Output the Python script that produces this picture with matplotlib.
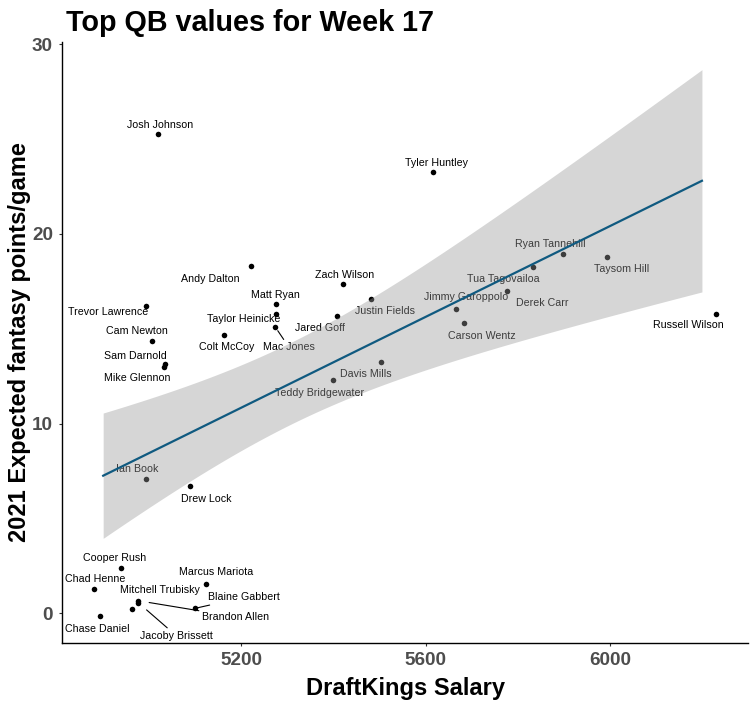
import numpy as np
import matplotlib
matplotlib.use("Agg")
import matplotlib.pyplot as plt

plt.rcParams['font.family'] = ['Liberation Sans', 'DejaVu Sans']

# ---------------- data ----------------
players = ["Josh Johnson", "Tyler Huntley", "Ryan Tannehill", "Taysom Hill", "Tua Tagovailoa",
           "Derek Carr", "Jimmy Garoppolo", "Carson Wentz", "Russell Wilson", "Justin Fields",
           "Zach Wilson", "Jared Goff", "Davis Mills", "Teddy Bridgewater", "Andy Dalton",
           "Matt Ryan", "Taylor Heinicke", "Mac Jones", "Colt McCoy", "Trevor Lawrence",
           "Cam Newton", "Sam Darnold", "Mike Glennon", "Ian Book", "Drew Lock",
           "Cooper Rush", "Chad Henne", "Marcus Mariota", "Mitchell Trubisky", "Blaine Gabbert",
           "Chase Daniel", "Brandon Allen", "Jacoby Brissett"]
# DraftKings salary (used for the fit)
salary = [5000, 5600, 5900, 6000, 5800,
          5800, 5700, 5700, 6200, 5500,
          5400, 5400, 5500, 5400, 5200,
          5300, 5300, 5300, 5200, 5000,
          5000, 5000, 5000, 5000, 5100,
          4900, 4900, 5100, 5000, 5100,
          4900, 5000, 5000]
# salary position as drawn (jittered in the original chart)
salary_drawn = [5020, 5617, 5899, 5993, 5834,
                5776, 5667, 5684, 6231, 5482,
                5421, 5408, 5504, 5400, 5222,
                5276, 5276, 5274, 5163, 4992,
                5007, 5035, 5031, 4994, 5089,
                4939, 4879, 5124, 4963, 5100,
                4894, 4976, 4976]
exp_pts = [25.25, 23.25, 18.92, 18.77, 18.24,
           16.97, 16.03, 15.30, 15.76, 16.55,
           17.34, 15.67, 13.23, 12.30, 18.31,
           16.30, 15.76, 15.08, 14.65, 16.18,
           14.35, 13.13, 12.97, 7.06, 6.71,
           2.37, 1.27, 1.53, 0.21, 0.26,
           -0.16, 0.66, 0.56]
x_ticks = [5200, 5600, 6000]
y_ticks = [0, 10, 20, 30]

# label offsets in pixels (dx right, dy down); leader segment gap at the point (0 = no segment)
label_off = [(2, -9), (3, -9), (-13, -10), (15, 12), (-30, 12),
             (36, 12), (10, -12), (18, 13), (-28, 11), (14, 12),
             (1.5, -9), (-17, 12), (-16, 12), (-14, 13), (-41, 13),
             (-1, -9), (-33, 5), (13.5, 20), (2, 12), (-37, 6),
             (-15.5, -10), (-30, -8), (-26, 11), (-9.5, -10), (16, 13),
             (-7, -10), (2, -10), (9.5, -12), (28, -19), (49, -11),
             (-3, 13), (97, 16), (38, 33)]
seg_gap = [0] * 17 + [3] + [0] * 11 + [2, 0, 8, 8]

# ---------------- figure ----------------
W, H = 755, 704
fig = plt.figure(figsize=(W / 100, H / 100), dpi=100)
ax = fig.add_axes([62 / W, 1 - 643 / H, (748 - 62) / W, (643 - 42) / H])

xs = np.array(salary_drawn, float)
ys = np.array(exp_pts, float)
ax.scatter(xs, ys, s=16, color='black', zorder=2, linewidths=0)

for name, x, y, (dx, dy), gap in zip(players, xs, ys, label_off, seg_gap):
    kw = {}
    if gap:
        kw['arrowprops'] = dict(arrowstyle='-', color='black', lw=0.8, shrinkA=0, shrinkB=gap)
    ax.annotate(name, xy=(x, y), xytext=(dx * 0.72, -dy * 0.72), textcoords='offset points',
                ha='center', va='center', fontsize=7.7, color='black', zorder=3, **kw)

# linear fit with 95% confidence band (computed on true salaries)
sx = np.array(salary, float)
n = len(sx)
b1, b0 = np.polyfit(sx, ys, 1)
resid = ys - (b0 + b1 * sx)
s = np.sqrt(np.sum(resid ** 2) / (n - 2))
sxx = np.sum((sx - sx.mean()) ** 2)
t975 = 2.0395  # t quantile, df = 31
gx = np.linspace(sx.min(), sx.max(), 80)
gy = b0 + b1 * gx
se = s * np.sqrt(1 / n + (gx - sx.mean()) ** 2 / sxx)
ax.fill_between(gx, gy - t975 * se, gy + t975 * se, color='#999999', alpha=0.4,
                linewidth=0, zorder=4)
ax.plot(gx, gy, color='#105A80', lw=1.6, zorder=5)

ax.set_xlim(4810.6, 6300)
ax.set_ylim(-1.57, 30.12)
ax.set_xticks(x_ticks)
ax.set_yticks(y_ticks)
ax.set_xticklabels([str(v) for v in x_ticks])
ax.set_yticklabels([str(v) for v in y_ticks])
for sp in ['top', 'right']:
    ax.spines[sp].set_visible(False)
for sp in ['left', 'bottom']:
    ax.spines[sp].set_linewidth(1.0)
ax.tick_params(length=2.5, width=0.8, color='#333333', labelsize=13.6, labelcolor='#4D4D4D', pad=4)
for lab in ax.get_xticklabels() + ax.get_yticklabels():
    lab.set_fontweight('bold')

ax.set_xlabel("DraftKings Salary", fontsize=17, fontweight='bold', labelpad=6)
ax.set_ylabel("2021 Expected fantasy points/game", fontsize=17, fontweight='bold', labelpad=1)
fig.text(66 / W, 1 - 31 / H, "Top QB values for Week 17", fontsize=20.7, fontweight='bold',
         ha='left', va='baseline')

fig.savefig("out.png", dpi=100)
